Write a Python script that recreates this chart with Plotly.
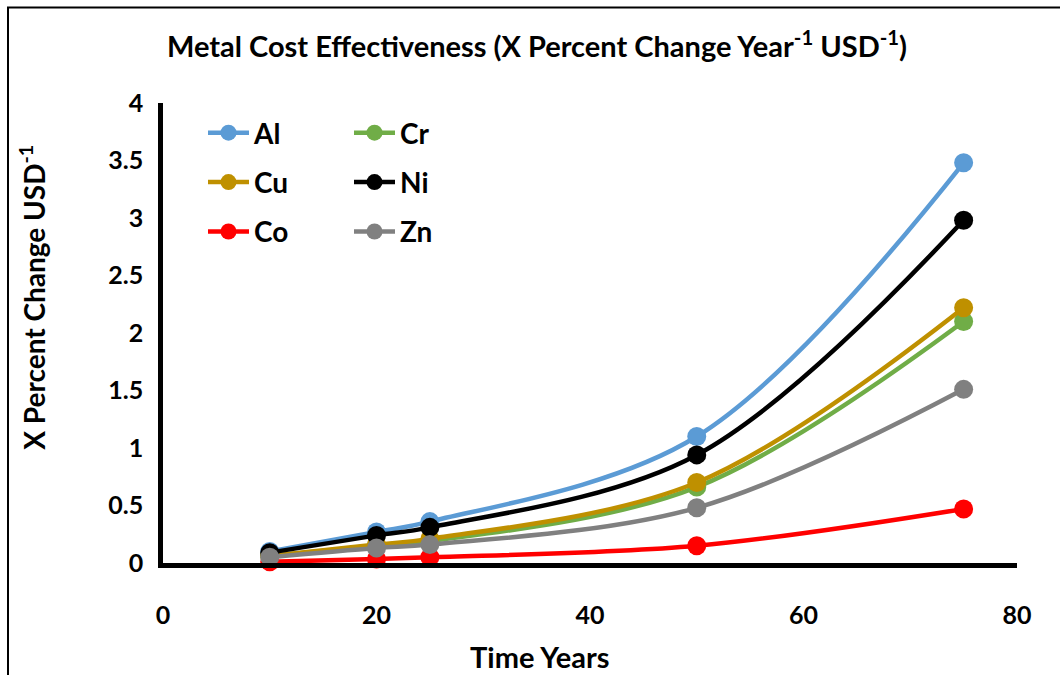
import plotly.graph_objects as go

# Time points (years) and metal cost-effectiveness values
years = [10, 20, 25, 50, 75]

al = [0.10, 0.27, 0.36, 1.10, 3.48]
cr = [0.06, 0.15, 0.19, 0.66, 2.10]
cu = [0.06, 0.16, 0.21, 0.70, 2.22]
ni = [0.09, 0.24, 0.31, 0.94, 2.98]
co = [0.01, 0.035, 0.05, 0.15, 0.47]
zn = [0.05, 0.13, 0.16, 0.48, 1.51]

series = [
    ("Al", al, "#5B9BD5", "legend"),
    ("Cr", cr, "#70AD47", "legend2"),
    ("Cu", cu, "#BF9000", "legend"),
    ("Ni", ni, "#000000", "legend2"),
    ("Co", co, "#FF0000", "legend"),
    ("Zn", zn, "#808080", "legend2"),
]

FONT = "Lato"

fig = go.Figure()
for name, vals, color, leg in series:
    fig.add_trace(go.Scatter(
        x=years, y=vals, name=name,
        mode="lines+markers",
        line=dict(color=color, width=4.5, shape="spline", smoothing=1.0),
        marker=dict(color=color, size=19),
        legend=leg, legendgroup=name,
        cliponaxis=False,
    ))

# plot area in pixels: left 163, right 1017, top 103, bottom 563.5
W, H = 1060, 675
L, R, T, B = 163, 1017, 103, 563.5
pw, ph = R - L, B - T

def px(x):
    return (x - L) / pw

def py(y):
    return (B - y) / ph

legend_common = dict(
    font=dict(family=FONT, size=28, color="#000000", weight="bold"),
    bgcolor="rgba(0,0,0,0)",
    orientation="v",
    tracegroupgap=10,
    yanchor="top",
    xanchor="left",
    itemwidth=41,
)

fig.update_layout(
    width=W, height=H,
    margin=dict(l=L, r=W - R, t=T, b=H - B, autoexpand=False),
    paper_bgcolor="white",
    plot_bgcolor="white",
    title=dict(
        text="Metal Cost Effectiveness (X Percent Change Year<sup>-1</sup> USD<sup>-1</sup>)",
        font=dict(family=FONT, size=29, color="#000000", weight="bold"),
        x=537 / W, xref="container", xanchor="center",
        y=1 - 47 / H, yref="container", yanchor="middle",
    ),
    legend=dict(x=px(203), y=py(108), **legend_common),
    legend2=dict(x=px(349), y=py(108), **legend_common),
    xaxis=dict(
        range=[0, 80], dtick=20, tick0=0,
        showgrid=False, zeroline=False,
        showline=True, linecolor="#000000", linewidth=4.5,
        ticks="", ticklabelstandoff=26,
        tickfont=dict(family=FONT, size=25, color="#000000", weight="bold"),
    ),
    yaxis=dict(
        range=[0, 4], dtick=0.5, tick0=0,
        showgrid=False, zeroline=False,
        showline=True, linecolor="#000000", linewidth=4.5,
        ticks="", ticklabelstandoff=10,
        tickfont=dict(family=FONT, size=25, color="#000000", weight="bold"),
    ),
    annotations=[
        dict(text="Time Years", xref="paper", yref="paper",
             x=px(540), y=py(657), showarrow=False,
             xanchor="center", yanchor="middle",
             font=dict(family=FONT, size=29, color="#000000", weight="bold")),
        dict(text="X Percent Change USD<sup>-1</sup>", xref="paper", yref="paper",
             x=px(33), y=py(298), showarrow=False, textangle=-90,
             xanchor="center", yanchor="middle",
             font=dict(family=FONT, size=28, color="#000000", weight="bold")),
    ],
    shapes=[
        dict(type="rect", xref="paper", yref="paper",
             x0=px(8), x1=px(1080), y0=py(700), y1=py(7.5),
             line=dict(color="#000000", width=2), fillcolor="rgba(0,0,0,0)",
             layer="below"),
    ],
)

fig.write_html("out.html")
